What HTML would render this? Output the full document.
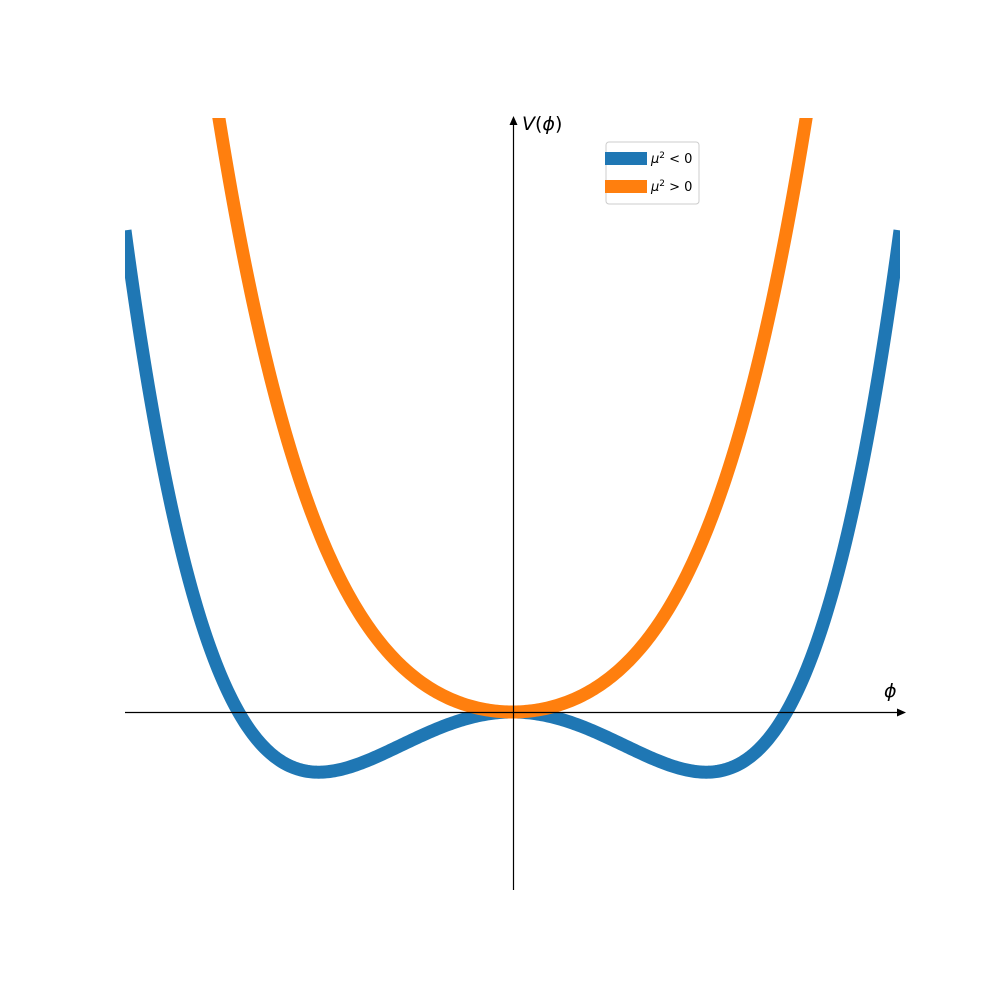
<!DOCTYPE html>
<html><head><meta charset="utf-8"><style>
html,body{margin:0;padding:0;background:#fff;}
svg{display:block;font-family:"Liberation Sans","DejaVu Sans",sans-serif;}
</style></head><body>
<svg id="chart" width="1000" height="1000" viewBox="0 0 1000 1000">
<defs><clipPath id="clip"><rect x="125" y="118" width="775" height="780"/></clipPath></defs>
<g id="curves" clip-path="url(#clip)"></g>
<line x1="125" y1="712.5" x2="898" y2="712.5" stroke="#000" stroke-width="1.2"/>
<polygon points="906,712.5 897,708.5 897,716.5" fill="#000"/>
<line x1="513.5" y1="890" x2="513.5" y2="124" stroke="#000" stroke-width="1.2"/>
<polygon points="513.5,116 509.5,125 517.5,125" fill="#000"/>
<text x="522" y="130" font-size="19" font-family="DejaVu Sans, sans-serif"><tspan font-style="italic">V</tspan>(<tspan font-style="italic">ϕ</tspan>)</text>
<text x="884" y="697" font-size="19" font-style="italic" font-family="DejaVu Sans, sans-serif">ϕ</text>
<g>
<rect x="606" y="142" width="93" height="62" rx="3" fill="#fff" stroke="#ccc" stroke-width="1"/>
<rect x="605" y="152" width="42" height="13" fill="#1f77b4"/>
<text x="651" y="163" font-size="13" font-family="DejaVu Sans, sans-serif"><tspan font-style="italic">μ</tspan><tspan dy="-5" font-size="9">2</tspan><tspan dy="5"> &lt; 0</tspan></text>
<rect x="605" y="180" width="42" height="13" fill="#ff7f0e"/>
<text x="651" y="191" font-size="13" font-family="DejaVu Sans, sans-serif"><tspan font-style="italic">μ</tspan><tspan dy="-5" font-size="9">2</tspan><tspan dy="5"> &gt; 0</tspan></text>
</g>
</svg>
<script>
const seriesNames = ['mu2-negative', 'mu2-positive'];
const seriesMu2 = [-2, 2];
const seriesQuartic = [1, 1];
const seriesColors = ['#1f77b4', '#ff7f0e'];
const phiRange = [-2, 2];
const sampleCount = 400;
function xs(p){ return 512.5 + p*193.75; }
function ys(v){ return 712 - v*60.2; }
const g = document.getElementById('curves');
for (let s = 0; s < seriesMu2.length; s++) {
  let d = '';
  for (let i = 0; i <= sampleCount; i++) {
    const p = phiRange[0] + (phiRange[1]-phiRange[0])*i/sampleCount;
    const v = seriesQuartic[s]*p*p*p*p + seriesMu2[s]*p*p;
    d += (i ? 'L' : 'M') + xs(p).toFixed(2) + ',' + ys(v).toFixed(2);
  }
  const path = document.createElementNS('http://www.w3.org/2000/svg', 'path');
  path.setAttribute('d', d);
  path.setAttribute('fill', 'none');
  path.setAttribute('stroke', seriesColors[s]);
  path.setAttribute('stroke-width', '13');
  
  
  g.appendChild(path);
}
</script>
</body></html>
